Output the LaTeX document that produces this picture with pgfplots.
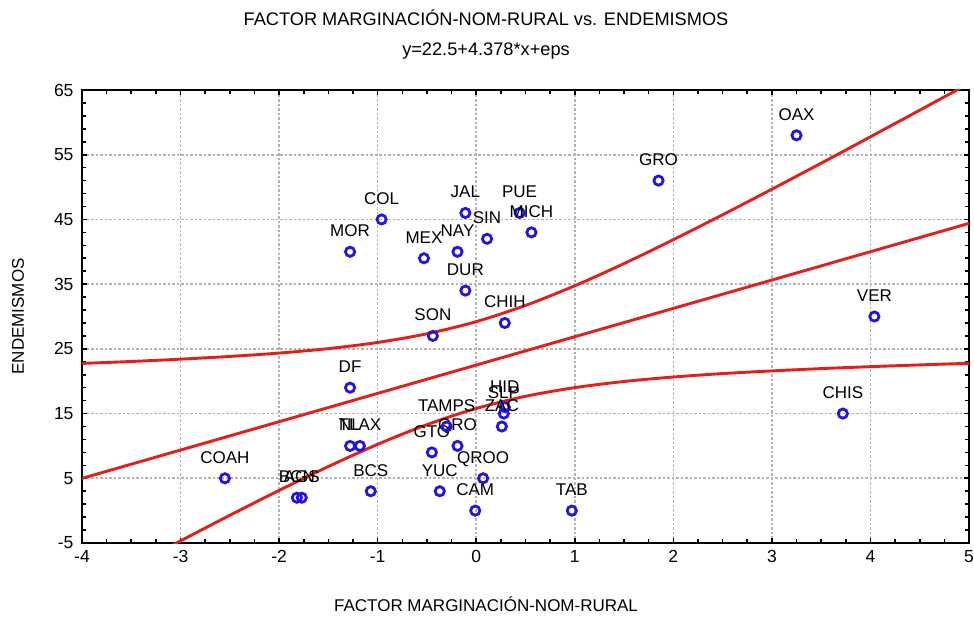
\documentclass[border=0pt]{standalone}
\usepackage{pgfplots}
\pgfplotsset{compat=1.18}
\usepackage{fontspec}
\setmainfont{Liberation Sans}
\definecolor{lred}{RGB}{230,30,25}
\definecolor{pblue}{RGB}{35,20,225}
\pgfplotstableread{
x y label
-2.55 5 COAH
-1.82 2 BCN
-1.77 2 AGS
-1.07 3 BCS
-1.28 10 NL
-1.18 10 TLAX
-1.28 19 DF
-1.28 40 MOR
-0.96 45 COL
-0.53 39 MEX
-0.19 40 NAY
-0.11 46 JAL
0.11 42 SIN
0.44 46 PUE
0.56 43 MICH
-0.11 34 DUR
-0.44 27 SON
0.29 29 CHIH
1.85 51 GRO
3.25 58 OAX
4.04 30 VER
3.72 15 CHIS
0.97 0 TAB
-0.01 0 CAM
-0.37 3 YUC
0.07 5 QROO
-0.45 9 GTO
-0.19 10 QRO
-0.30 13 TAMPS
0.29 16 HID
0.28 15 SLP
0.26 13 ZAC
}\datatable
\begin{document}
\begin{tikzpicture}[x=1pt,y=1pt]
\path[use as bounding box] (0,0) rectangle (974,622);
\node[font=\fontsize{18.2}{20}\selectfont] at (486,604) {FACTOR MARGINACIÓN-NOM-RURAL vs. ENDEMISMOS};
\node[font=\fontsize{18.2}{20}\selectfont] at (486,571) {y=22.5+4.378*x+eps};
\begin{axis}[at={(82pt,79pt)}, anchor=south west, width=887pt, height=453pt, scale only axis,
  xmin=-4, xmax=5, ymin=-5, ymax=65,
  xtick={-4,-3,...,5}, ytick={-5,5,...,65},
  minor x tick num=3, minor y tick num=4,
  grid=major,
  major grid style={gray!60, line width=1.6pt, dash pattern=on 2.5pt off 2pt},
  axis line style={line width=2.5pt, black},
  tick style={black, line width=1.6pt},
  major tick length=5pt, minor tick length=4pt, tick align=inside,
  tick label style={font=\fontsize{17.5}{20}\selectfont},
  /pgf/number format/assume math mode=true,
  xticklabel shift=4pt, yticklabel shift=5pt,
  xlabel={FACTOR MARGINACIÓN-NOM-RURAL}, ylabel={ENDEMISMOS},
  label style={font=\fontsize{17}{20}\selectfont},
  xlabel style={at={(axis description cs:0.4555,-0.1347)}, anchor=center},
  ylabel style={at={(axis description cs:-0.0722,0.5)}, anchor=center},
]
\addplot[only marks, mark=o, mark size=4.6pt, mark options={pblue, line width=2.8pt},
  nodes near coords, point meta=explicit symbolic,
  nodes near coords style={anchor=base, yshift=15pt, font=\fontsize{17}{20}\selectfont, text=black}]
  table[x=x, y=y, meta=label] {\datatable};
\addplot[lred, line width=2.9pt] coordinates {(-4,4.988) (5,44.39)};
\addplot[lred, line width=2.9pt, smooth] coordinates {
(-4,22.75) (-3.5,23.05) (-3,23.41) (-2.5,23.83) (-2,24.35) (-1.5,25.04) (-1,25.99) (-0.5,27.33) (0,29.21) (0.5,31.71) (1,34.75) (1.5,38.18) (2,41.87) (2.5,45.72) (3,49.67) (3.5,53.69) (4,57.77) (4.5,61.88) (5,66.01)};
\addplot[lred, line width=2.9pt, smooth] coordinates {
(-4,-12.77) (-3.5,-8.69) (-3,-4.67) (-2.5,-0.72) (-2,3.13) (-1.5,6.82) (-1,10.25) (-0.5,13.29) (0,15.79) (0.5,17.67) (1,19.01) (1.5,19.96) (2,20.65) (2.5,21.18) (3,21.59) (3.5,21.95) (4,22.25) (4.5,22.52) (5,22.77)};
\end{axis}
\end{tikzpicture}
\end{document}
